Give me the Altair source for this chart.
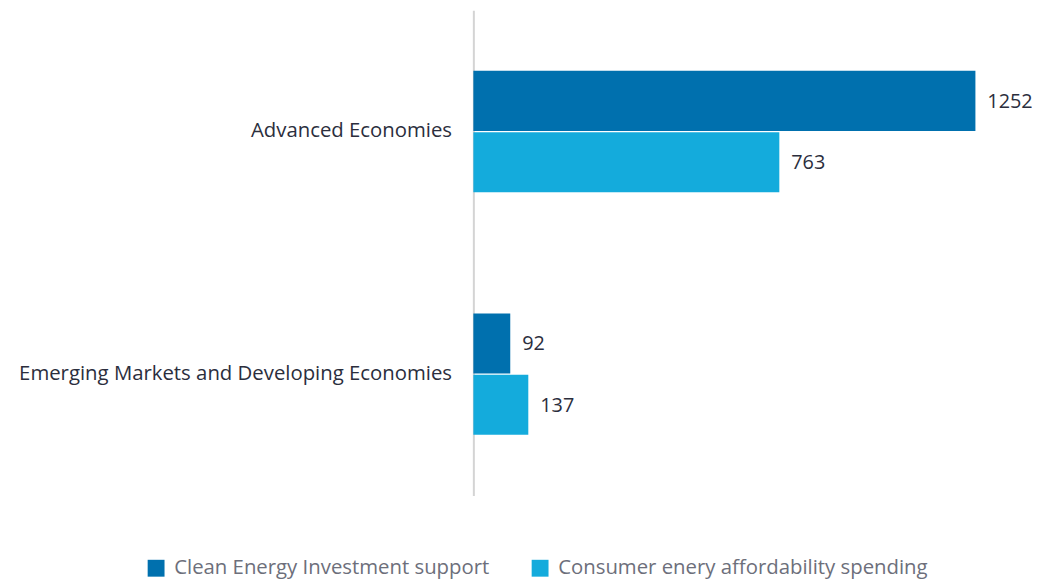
import altair as alt
import pandas as pd

categories = ["Advanced Economies", "Emerging Markets and Developing Economies"]
series = ["Clean Energy Investment support", "Consumer enery affordability spending"]
clean_energy = [1252, 92]
consumer = [763, 137]
colors = ["#0070ae", "#14abdc"]

rows = []
for i, c in enumerate(categories):
    rows.append({"region": c, "series": series[0], "value": clean_energy[i]})
    rows.append({"region": c, "series": series[1], "value": consumer[i]})
df = pd.DataFrame(rows)

FONT = "Open Sans"
FS = 20.5

y_enc = alt.Y("region:N", sort=categories, title=None,
              scale=alt.Scale(paddingInner=0.5, paddingOuter=0.25),
              axis=alt.Axis(domain=True, domainColor="#d4d4d4", domainWidth=2,
                            ticks=False, labelPadding=22, labelFontSize=FS,
                            labelColor="#2b2e3d", labelFont=FONT, grid=False,
                            labelLimit=500))
x_enc = alt.X("value:Q", title=None, scale=alt.Scale(domain=[0, 1356], nice=False),
              axis=None)
yoff = alt.YOffset("series:N", sort=series, scale=alt.Scale(paddingInner=0.02))

bars = alt.Chart(df).mark_bar(cornerRadius=0).encode(
    y=y_enc, x=x_enc, yOffset=yoff,
    color=alt.Color("series:N", sort=series,
                    scale=alt.Scale(domain=series, range=colors),
                    legend=alt.Legend(title=None, orient="none", direction="horizontal",
                                      legendX=-330, legendY=552, symbolType="square",
                                      symbolSize=289, symbolStrokeWidth=0,
                                      labelFontSize=FS, labelColor="#6d6f7b",
                                      labelFont=FONT, columnPadding=40,
                                      labelOffset=8, labelLimit=500)),
)

labels = alt.Chart(df).mark_text(align="left", baseline="middle", dx=12, dy=1,
                                 fontSize=20, color="#2b2e3d", font=FONT).encode(
    y=alt.Y("region:N", sort=categories), x=alt.X("value:Q"), yOffset=yoff,
    text=alt.Text("value:Q"),
)

chart = alt.layer(bars, labels).properties(
    width=548, height=489,
    autosize=alt.AutoSizeParams(type="none"),
    padding={"left": 469, "top": 0, "right": 15, "bottom": 83},
).configure_view(stroke=None)

chart.save("out.html", embed_options={"renderer": "svg", "actions": False})
